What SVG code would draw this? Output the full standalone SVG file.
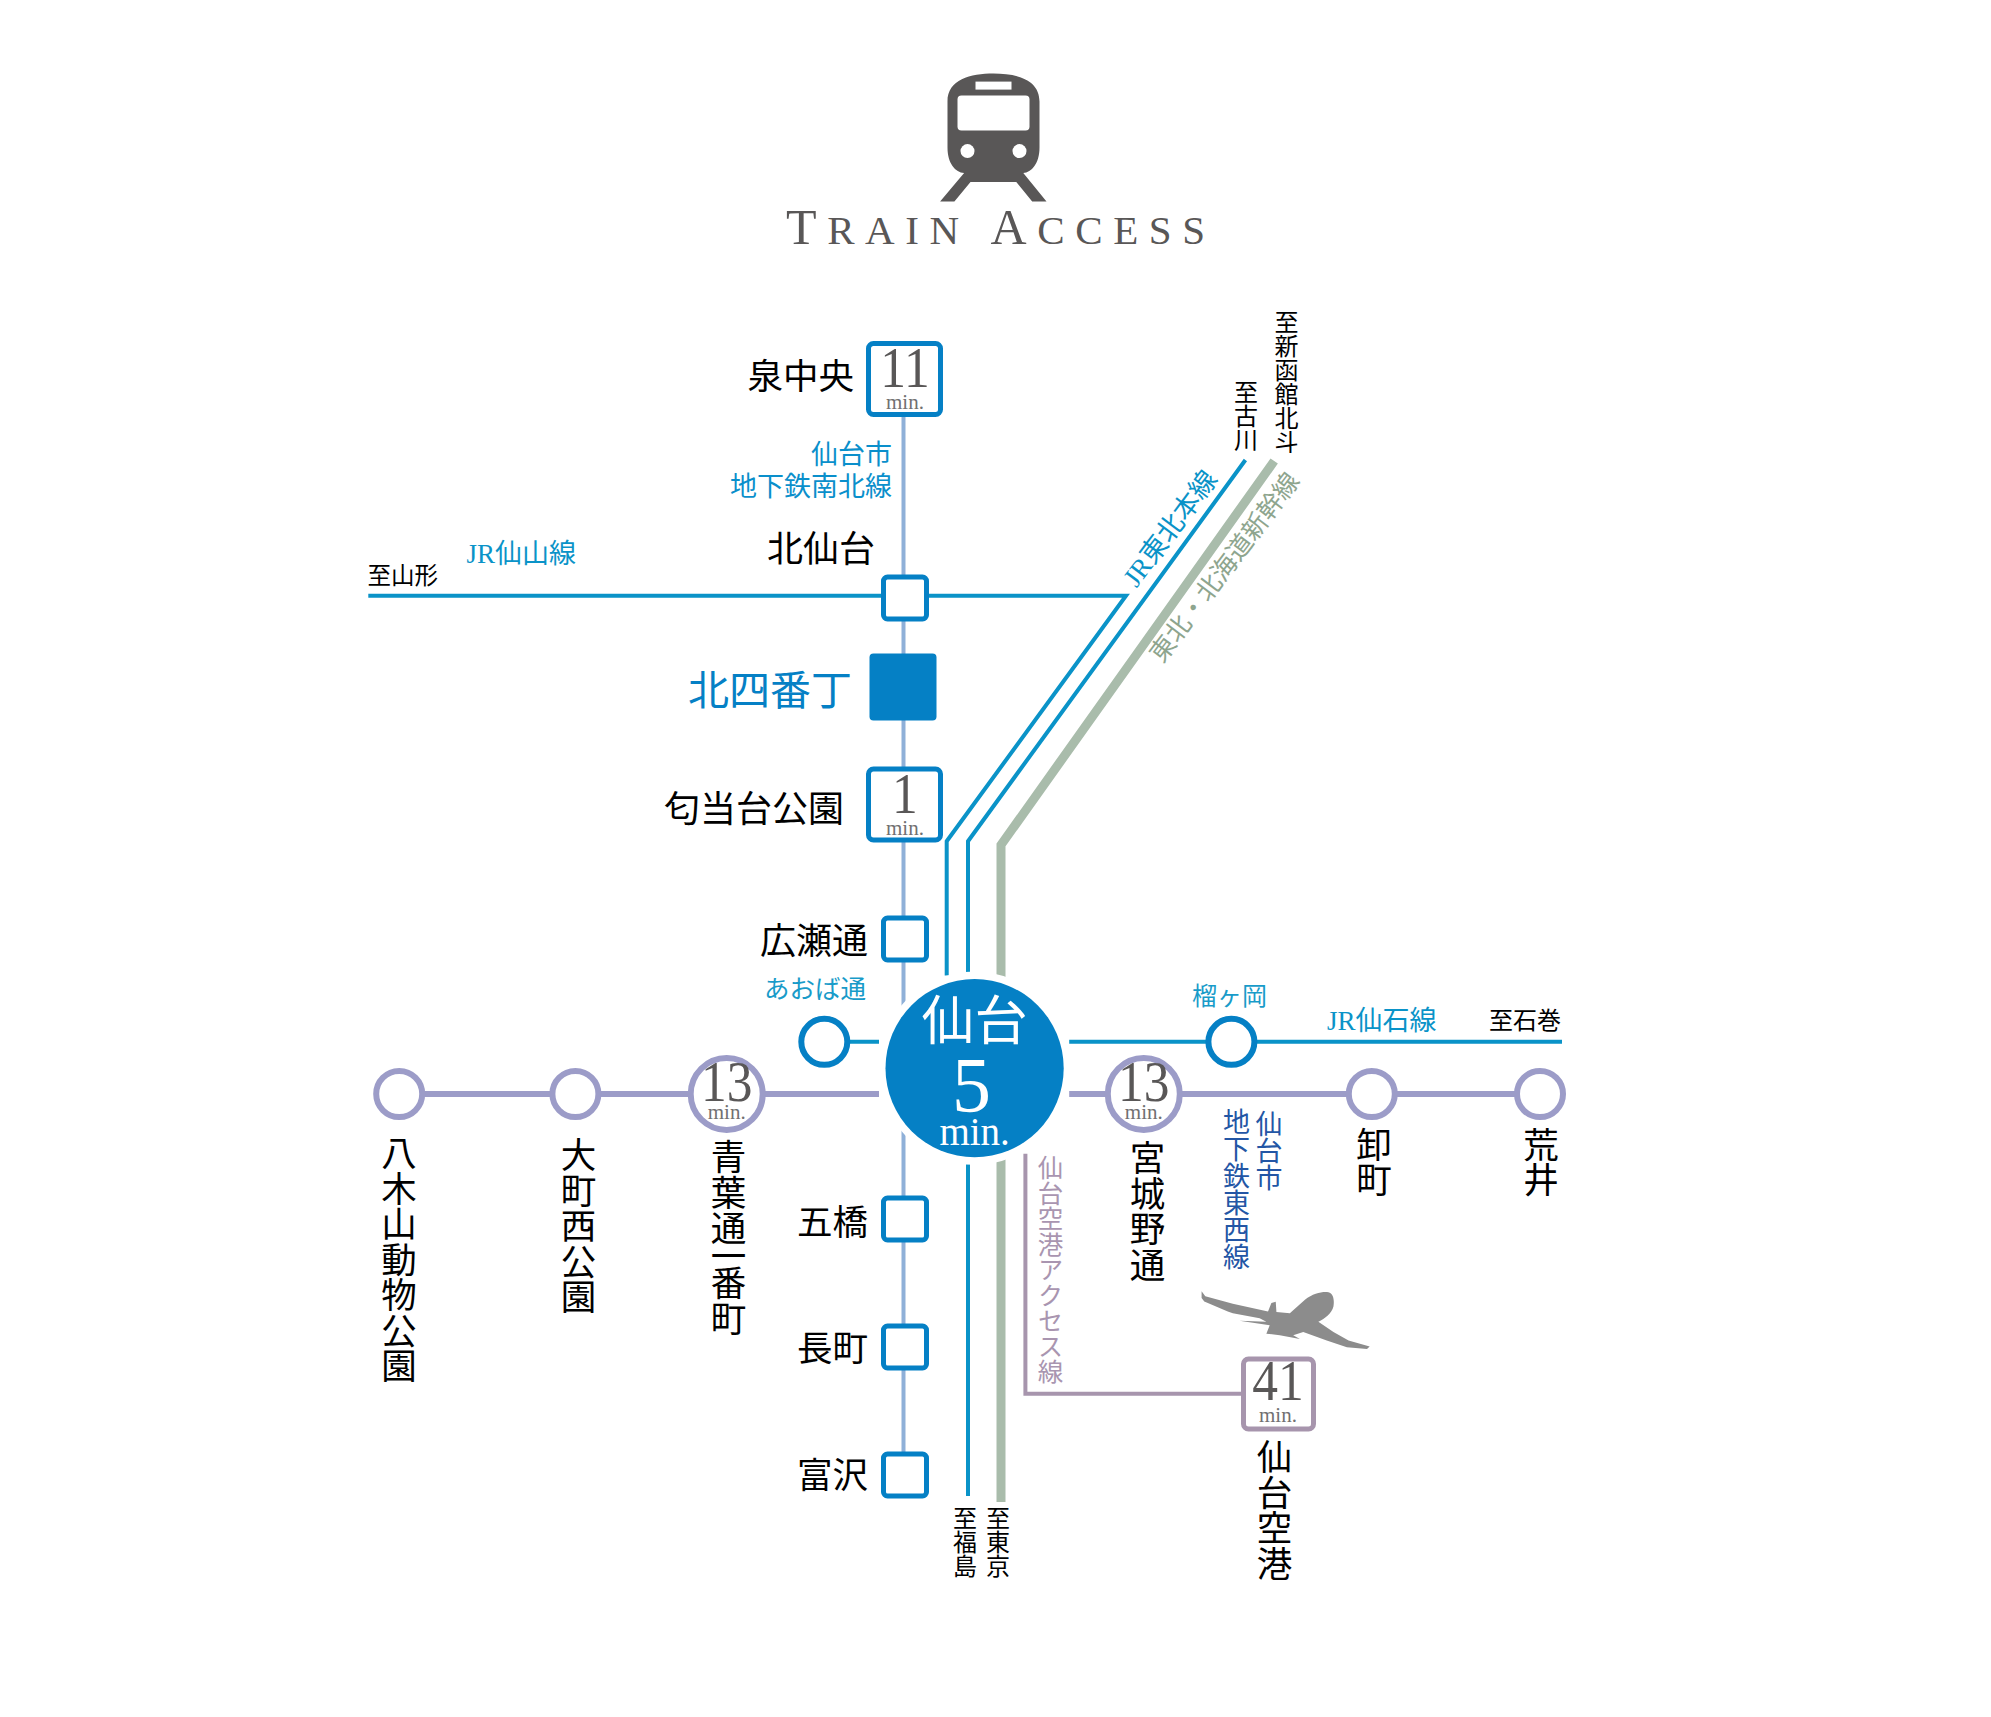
<svg xmlns="http://www.w3.org/2000/svg" width="1991" height="1717" viewBox="0 0 1991 1717">
<style>
text{font-family:"Liberation Serif","Noto Sans CJK JP",serif}
.l{fill:#000;font-size:35.500px;text-anchor:end}
.v{fill:#000;font-size:35.500px;writing-mode:vertical-rl}
.v24{fill:#000;font-size:24px;writing-mode:vertical-rl}
.n{fill:#595757;text-anchor:middle;font-size:56px}
.m{fill:#717071;text-anchor:middle;font-size:21px}
.b{fill:#fff;stroke:#0580c5;stroke-width:5}
.cb{fill:#fff;stroke:#0580c5;stroke-width:6}
.cp{fill:#fff;stroke:#9c9cc8;stroke-width:6}
.sub{stroke:#8fb0d8;stroke-width:4;fill:none}
.jr{stroke:#0a93c8;stroke-width:4;fill:none}
.sk{stroke:#a9bcab;stroke-width:9;fill:none}
.tz{stroke:#9c9cc8;stroke-width:6;fill:none}
.ap{stroke:#a795ad;stroke-width:4;fill:none}
</style>
<rect width="1991" height="1717" fill="#fff"/>
<g id="title">
<g transform="translate(-4.500 -0.400)">
<path fill="#595757" d="M952 102C952 80 975 74 998 74C1021 74 1044 80 1044 102V148C1044 164 1036 173 1027.800 173.500L1051 202H1036.700L1020.800 182.500H975L958.900 202H944.600L968.600 173.500C960 173 952 164 952 148Z"/>
<rect x="980" y="82" width="36" height="8" fill="#fff"/>
<rect x="962" y="96" width="72" height="35" rx="4" fill="#fff"/>
<circle cx="972" cy="151.500" r="7" fill="#fff"/>
<circle cx="1024" cy="151.500" r="7" fill="#fff"/>
</g>
<text x="786" y="244" textLength="419" fill="#595757" font-size="50"><tspan>T</tspan><tspan font-size="41">RAIN </tspan><tspan>A</tspan><tspan font-size="41">CCESS</tspan></text>
</g>
<g id="connectors">
<path class="sub" d="M903.500 415V1454"/>
<path class="jr" d="M368.300 595.800H1126L946.700 841.200V975.600"/>
<path class="jr" d="M1245.400 460L968 841.200V1496"/>
<path class="sk" d="M1274.200 461L1001 845V1502"/>
<circle cx="974.600" cy="1068.200" r="96.600" fill="#fff"/>
<path class="jr" d="M824.300 1041.800H879M1069.200 1041.800H1562"/>
<path class="tz" d="M399.200 1094H879M1069.200 1094H1540"/>
<path class="ap" d="M1025.400 1153.800V1393.700H1244"/>
</g>
<g id="sendai">
<circle cx="974.600" cy="1068.200" r="89.100" fill="#0580c5"/>
<text x="974.600" y="1040.300" text-anchor="middle" font-size="53" fill="#fff">仙台</text>
<text x="971.600" y="1111" text-anchor="middle" font-size="78" fill="#fff">5</text>
<text x="974.600" y="1144.800" text-anchor="middle" font-size="39" fill="#fff">min.</text>
</g>
<g id="izumi-chuo"><rect class="b" x="868.500" y="343.500" width="72" height="71" rx="5"/><text class="n" transform="translate(905 387) scale(.92 1)">11</text><text class="m" x="905" y="409">min.</text><text class="l" x="854" y="389">泉中央</text></g>
<g id="kita-sendai"><rect class="b" x="883.500" y="577" width="43" height="42" rx="4"/><text class="l" x="875" y="561.500" style="font-size:36px">北仙台</text></g>
<g id="kita-yonbancho"><rect x="869.500" y="653.500" width="67" height="67" rx="4" fill="#0580c5"/><text class="l" x="852" y="705" style="font-size:41px;fill:#0580c5">北四番丁</text></g>
<g id="kotodai-koen"><rect class="b" x="868.500" y="769" width="72" height="71" rx="5"/><text class="n" transform="translate(905 813) scale(.92 1)">1</text><text class="m" x="905" y="835">min.</text><text class="l" x="844" y="822" style="font-size:36px">匂当台公園</text></g>
<g id="hirosedori"><rect class="b" x="883.500" y="918" width="43" height="42" rx="4"/><text class="l" x="868" y="953.700" style="font-size:36px">広瀬通</text></g>
<g id="itsutsubashi"><rect class="b" x="883.500" y="1198" width="43" height="42" rx="4"/><text class="l" x="868" y="1235.400">五橋</text></g>
<g id="nagamachi"><rect class="b" x="883.500" y="1326" width="43" height="42" rx="4"/><text class="l" x="868" y="1361">長町</text></g>
<g id="tomizawa"><rect class="b" x="883.500" y="1454" width="43" height="42" rx="4"/><text class="l" x="868" y="1488">富沢</text></g>
<g id="aobadori"><circle class="cb" cx="824.300" cy="1041.800" r="23"/><text x="866" y="997.500" text-anchor="end" font-size="25.500" fill="#189bc9">あおば通</text></g>
<g id="tsutsujigaoka"><circle class="cb" cx="1231.400" cy="1041.800" r="23"/><text x="1229.500" y="1004.500" text-anchor="middle" font-size="25" fill="#189bc9">榴ヶ岡</text></g>
<g id="yagiyama"><circle class="cp" cx="399.200" cy="1094" r="23"/><text class="v" x="395.500" y="1135">八木山動物公園</text></g>
<g id="omachi-nishi"><circle class="cp" cx="575.400" cy="1094" r="23"/><text class="v" x="575" y="1137">大町西公園</text></g>
<g id="aoba-ichibancho"><circle class="cp" cx="726.700" cy="1094" r="36"/><text class="n" transform="translate(726.700 1101) scale(.92 1)">13</text><text class="m" x="726.700" y="1119">min.</text><text class="v" x="725" y="1139">青葉通<tspan dy="-8">一</tspan><tspan dy="-8">番</tspan>町</text></g>
<g id="miyagino"><circle class="cp" cx="1143.800" cy="1094" r="36"/><text class="n" transform="translate(1143.800 1101) scale(.92 1)">13</text><text class="m" x="1143.800" y="1119">min.</text><text class="v" x="1144" y="1140">宮城野通</text></g>
<g id="oroshimachi"><circle class="cp" cx="1371.800" cy="1094" r="23"/><text class="v" x="1370.500" y="1126.500">卸町</text></g>
<g id="arai"><circle class="cp" cx="1540" cy="1094" r="23"/><text class="v" x="1537.500" y="1126.500">荒井</text></g>
<g id="sendai-airport"><rect x="1243.500" y="1359" width="70" height="70" rx="5" fill="#fff" stroke="#a795ad" stroke-width="5"/><text class="n" transform="translate(1278 1399.500) scale(.92 1)">41</text><text class="m" x="1278" y="1421.500">min.</text><text class="v" x="1271" y="1439">仙台空港</text></g>
<g id="labels">
<text x="892" y="463.500" text-anchor="end" font-size="27" fill="#0a8fcb">仙台市</text>
<text x="892" y="495.500" text-anchor="end" font-size="27" fill="#0a8fcb">地下鉄南北線</text>
<text x="576" y="562.500" text-anchor="end" font-size="27" fill="#0a93c8">JR仙山線</text>
<text x="438" y="584.400" text-anchor="end" font-size="23.500">至山形</text>
<text x="1436.500" y="1030.400" text-anchor="end" font-size="27" fill="#0a93c8">JR仙石線</text>
<text x="1561" y="1029.400" text-anchor="end" font-size="24">至石巻</text>
<text x="1266.500" y="1110" font-size="27" fill="#2356a5" style="writing-mode:vertical-rl">仙台市</text>
<text x="1234" y="1108.500" font-size="27" fill="#2356a5" style="writing-mode:vertical-rl">地下鉄東西線</text>
<text x="1047.500" y="1155" font-size="25.500" fill="#a995b0" style="writing-mode:vertical-rl">仙台空港アクセス線</text>
<text class="v24" x="962.600" y="1506">至福島</text>
<text class="v24" x="995.500" y="1506">至東京</text>
<text class="v24" x="1284" y="309.600">至新函館北斗</text>
<text class="v24" x="1243.400" y="380.300">至古川</text>
<text transform="translate(1177.500 534) rotate(-53)" text-anchor="middle" font-size="27" fill="#0a93c8">JR東北本線</text>
<text transform="translate(1231.500 572.700) rotate(-53)" text-anchor="middle" font-size="25.500" fill="#8ea58e">東北・北海道新幹線</text>
</g>
<g id="plane" transform="translate(1201.600 1291.200) scale(.3355 .3395) translate(-907 -425)">
<path fill="#8c8c8c" d="M907 425L918 440L1000 462L1105 485L1115 460L1128 456L1130 486L1170 490L1215 450C1240 430 1270 425 1285 428C1300 432 1303 450 1300 470C1295 490 1275 505 1255 515L1300 545L1345 570L1408 588L1400 595L1340 590L1280 570L1210 545L1180 555L1200 566L1140 555L1100 550L1110 525L1020 512L1100 515L1080 505L1000 490L985 485L915 455L907 445Z"/>
</g>
</svg>
